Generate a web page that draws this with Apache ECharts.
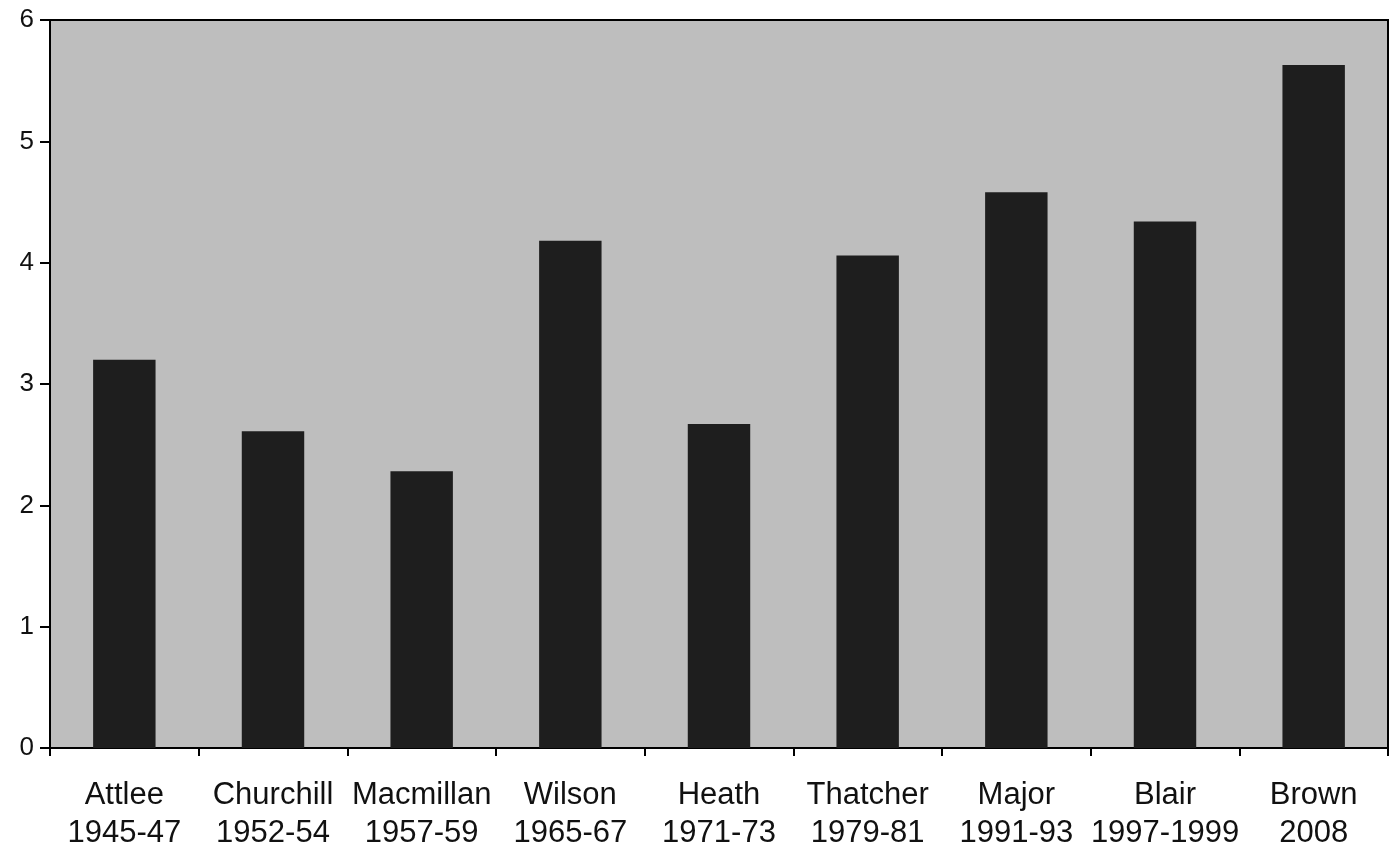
<!DOCTYPE html>
<html>
<head>
<meta charset="utf-8">
<script src="https://cdn.jsdelivr.net/npm/echarts@6/dist/echarts.min.js"></script>
<style>
html,body{margin:0;padding:0;background:#fff;}
#chart{width:1392px;height:853px;}
</style>
</head>
<body>
<div id="chart"></div>
<script>
var names = ['Attlee','Churchill','Macmillan','Wilson','Heath','Thatcher','Major','Blair','Brown'];
var periods = ['1945-47','1952-54','1957-59','1965-67','1971-73','1979-81','1991-93','1997-1999','2008'];
var values = [3.20, 2.61, 2.28, 4.18, 2.67, 4.06, 4.58, 4.34, 5.63];
var yTicks = [0,1,2,3,4,5,6];

var categories = names.map(function(n,i){ return n + '\n' + periods[i]; });

var chart = echarts.init(document.getElementById('chart'));
chart.setOption({
  animation: false,
  backgroundColor: '#ffffff',
  grid: {
    left: 50, right: 4, top: 20, bottom: 105,
    show: true,
    backgroundColor: '#bebebe',
    borderColor: '#000',
    borderWidth: 2
  },
  xAxis: {
    type: 'category',
    data: categories,
    axisLine: {lineStyle: {color: '#000', width: 2}},
    axisTick: {show: true, length: 8, lineStyle: {color: '#000', width: 2}},
    axisLabel: {
      color: '#111',
      fontFamily: 'Liberation Sans, Arial, sans-serif',
      fontSize: 31,
      lineHeight: 38,
      margin: 28,
      interval: 0
    }
  },
  yAxis: {
    type: 'value',
    min: 0, max: 6, interval: 1,
    axisLine: {show: true, lineStyle: {color: '#000', width: 2}},
    axisTick: {show: true, length: 10, lineStyle: {color: '#000', width: 2}},
    splitLine: {show: false},
    axisLabel: {
      color: '#111',
      fontFamily: 'Liberation Sans, Arial, sans-serif',
      fontSize: 26,
      margin: 16,
      formatter: function(v){ return yTicks.indexOf(v) >= 0 ? String(v) : ''; }
    }
  },
  series: [{
    type: 'bar',
    data: values,
    barWidth: '42%',
    itemStyle: {color: '#1e1e1e'}
  }]
});
</script>
</body>
</html>
